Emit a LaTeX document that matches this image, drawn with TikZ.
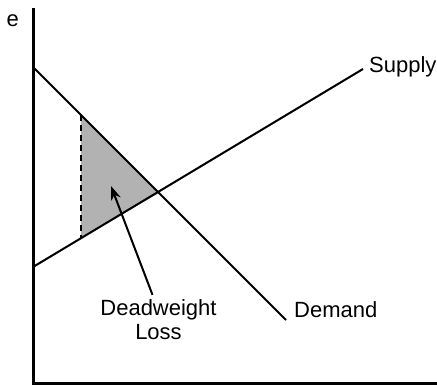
\documentclass[tikz,border=0pt]{standalone}
\usepackage{fontspec}
\setmainfont{Liberation Sans}
\usetikzlibrary{arrows.meta}
\begin{document}
\begin{tikzpicture}[x=1pt,y=-1pt,
  axis/.style={line width=3pt},
  curve/.style={line width=2pt,line cap=butt},
  lbl/.style={font=\fontsize{22}{24}\selectfont,inner sep=0pt},
  dwl/.style={fill=black!30},
  guide/.style={line width=2pt,dash pattern=on 6pt off 4pt}]
\useasboundingbox (0,0) rectangle (437,385);
% axes
\coordinate (ytop) at (33,8);
\coordinate (orig) at (33,383);
\coordinate (xend) at (437,383);
% curves
\coordinate (d0) at (33,67);
\coordinate (d1) at (286,320);
\coordinate (s0) at (33,267);
\coordinate (s1) at (363,69);
\coordinate (eq) at (159,193);
\coordinate (ta) at (81,115);
\coordinate (tb) at (81,238);
\fill[dwl] (ta) -- (eq) -- (tb) -- cycle;
\draw[guide] (ta) -- (tb);
\draw[curve] (d0) -- (d1);
\draw[curve] (s0) -- (s1);
\draw[axis] (ytop) -- (orig) -- (xend);
% labels
\node[lbl,anchor=base west] (supply) at (369,73) {Supply};
\node[lbl,anchor=base west] (demand) at (294,317) {Demand};
\node[lbl,anchor=base,align=center] (dw) at (158.5,339) {Deadweight\\Loss};
\node[lbl,anchor=base east] (price) at (19,27) {e};
\coordinate (tip) at (111,186);
\draw[curve,-{Stealth[length=14pt,width=10pt]}] (dw.north) ++(-6,-4) coordinate (tail) (tail) -- (tip);
\end{tikzpicture}
\end{document}
